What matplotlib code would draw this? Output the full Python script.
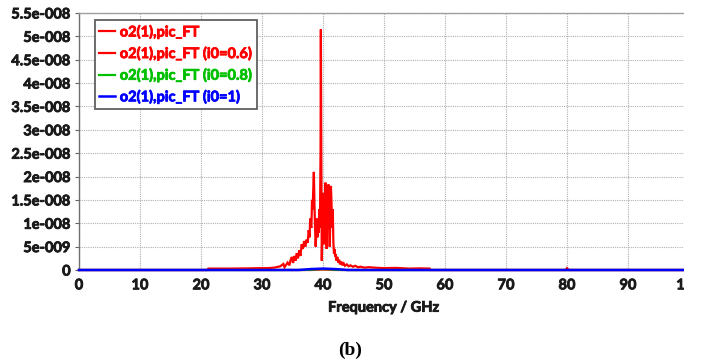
import matplotlib
matplotlib.use("Agg")
import matplotlib.pyplot as plt
import matplotlib.patheffects as pe
from matplotlib.patches import Rectangle

# ---- data (amplitudes in units of 1e-8) ----
freq_a = [0, 21.0, 21.2, 25, 28, 30, 31, 32, 33, 33.5, 33.7, 33.9, 34.2, 34.5, 34.7, 34.9,
          35.1, 35.3, 35.5, 35.7, 35.9, 36.1, 36.3, 36.5, 36.7, 36.9, 37.1, 37.3, 37.5,
          37.65, 37.8, 37.9, 38.0, 38.1, 38.2, 38.3, 38.4, 38.5, 38.6, 38.7, 38.8, 38.9,
          39.0, 39.1, 39.2, 39.3, 39.4, 39.5, 39.6, 39.65, 39.7, 39.8, 39.9, 40.0, 40.05,
          40.1, 40.2, 40.3, 40.4, 40.45, 40.5, 40.6, 40.7, 40.8, 40.9, 41.0, 41.1, 41.2,
          41.3, 41.4, 41.5, 41.6, 41.7, 41.8, 41.9, 42.0, 42.1, 42.2, 42.35, 42.5, 42.65,
          42.8, 43.0, 43.2, 43.4, 43.6, 43.9, 44.2, 44.5, 44.9, 45.3, 45.7, 46.2, 46.8,
          47.5, 48.5, 49.9, 52, 54, 56, 57.5, 57.6, 79.8, 80.0, 80.3, 100]
amp_a = [0.0, 0.0, 0.03, 0.03, 0.035, 0.04, 0.04, 0.05, 0.08, 0.13, 0.06, 0.1, 0.16, 0.1,
         0.22, 0.28, 0.15, 0.3, 0.2, 0.36, 0.25, 0.42, 0.3, 0.55, 0.45, 0.62, 0.5, 0.65,
         0.58, 0.85, 0.7, 1.1, 0.95, 0.9, 1.5, 1.3, 1.7, 2.1, 1.4, 0.9, 0.5, 0.8, 1.1, 0.7,
         1.1, 0.8, 1.3, 0.9, 2.6, 5.15, 3.2, 0.2, 0.9, 1.4, 1.65, 1.0, 0.55, 1.2, 1.87, 1.5,
         0.9, 0.45, 1.0, 1.5, 1.83, 1.3, 0.5, 1.1, 1.8, 1.4, 0.9, 1.3, 0.6, 0.35, 0.45,
         0.28, 0.34, 0.2, 0.28, 0.16, 0.22, 0.12, 0.18, 0.1, 0.14, 0.09, 0.12, 0.08, 0.1,
         0.07, 0.09, 0.06, 0.07, 0.05, 0.06, 0.05, 0.04, 0.045, 0.03, 0.035, 0.03, 0.0,
         0.0, 0.04, 0.0, 0.0]

freq_b = [0, 38, 40, 42, 100]
amp_b = [0.0, 0.0, 0.01, 0.0, 0.0]

freq_c = [0, 37, 39, 40, 41, 43, 100]
amp_c = [0.0, 0.0, 0.015, 0.02, 0.015, 0.0, 0.0]

freq_d = [0, 36, 38, 40, 42, 44, 100]
amp_d = [0.0, 0.0, 0.02, 0.03, 0.02, 0.0, 0.0]

labels = ["o2(1),pic_FT", "o2(1),pic_FT (i0=0.6)", "o2(1),pic_FT (i0=0.8)", "o2(1),pic_FT (i0=1)"]
colors = ["#ff0000", "#ff0000", "#00c000", "#0000ff"]

yticks = [0, 0.5, 1, 1.5, 2, 2.5, 3, 3.5, 4, 4.5, 5, 5.5]
ytick_labels = ["0", "5e-009", "1e-008", "1.5e-008", "2e-008", "2.5e-008", "3e-008",
                "3.5e-008", "4e-008", "4.5e-008", "5e-008", "5.5e-008"]
xticks = [0, 10, 20, 30, 40, 50, 60, 70, 80, 90, 100]

W, H = 701, 364
fig = plt.figure(figsize=(W / 100, H / 100), dpi=100)
ax = fig.add_axes([79 / W, 94 / H, 610 / W, 257 / H])

font = "Lato"
fw = "bold"
fs = 10.5
txtc = "#1a1a1a"


def heavy(color):
    return [pe.withStroke(linewidth=0.6, foreground=color)]


series = [(freq_a, amp_a), (freq_b, amp_b), (freq_c, amp_c), (freq_d, amp_d)]
for (f, a), lab, c in zip(series, labels, colors):
    lw = 1.6 if c != "#0000ff" else 1.8
    ax.plot(f, [v * 1e-8 for v in a], color=c, lw=lw, label=lab, clip_on=False, zorder=3,
            solid_joinstyle="miter")

ax.set_xlim(0, 100)
ax.set_ylim(0, 5.5e-8)
ax.set_xticks(xticks)
ax.set_xticklabels([str(x) for x in xticks], fontfamily=font, fontweight=fw, fontsize=fs,
                   color=txtc, path_effects=heavy(txtc))
ax.set_yticks([v * 1e-8 for v in yticks])
ax.set_yticklabels(ytick_labels, fontfamily=font, fontweight=fw, fontsize=fs,
                   color=txtc, path_effects=heavy(txtc))
ax.tick_params(axis="both", length=3, width=0.8, color="#606060", pad=3)
ax.tick_params(axis="x", length=0, pad=6)

ax.grid(True, color="#b0b0b0", linestyle=(0, (1, 1)), linewidth=0.8, zorder=0)
ax.set_axisbelow(True)
for s in ["right", "bottom"]:
    ax.spines[s].set_visible(False)
ax.spines["top"].set_color("#a0a0a0")
ax.spines["top"].set_linewidth(1.0)
ax.spines["left"].set_color("#707070")
ax.spines["left"].set_linewidth(1.0)

ax.set_xlabel("Frequency / GHz", fontfamily=font, fontweight=fw, fontsize=fs, labelpad=6,
              color=txtc, path_effects=heavy(txtc))

leg = ax.legend(loc="upper left", bbox_to_anchor=((95 - 79) / 610, (H - 20 - 94) / 257),
                frameon=True, fancybox=False, edgecolor="#606060", framealpha=1,
                handlelength=1.1, handletextpad=0.3, borderpad=0.3, labelspacing=0.45,
                borderaxespad=0, prop={"family": font, "weight": fw, "size": fs})
leg.get_frame().set_linewidth(1.3)
for t, c in zip(leg.get_texts(), colors):
    t.set_color(c)
    t.set_path_effects(heavy(c))
leg.set_zorder(5)

fig.text(350 / W, 1 - 350 / H, "(b)", ha="center", va="center",
         fontfamily="Liberation Serif", fontweight="bold", fontsize=14)

# image crop on the right edge
fig.patches.append(Rectangle((684 / W, 0), 1, 1, transform=fig.transFigure,
                             facecolor="white", edgecolor="none", zorder=10))

fig.savefig("out.png", dpi=100, facecolor="white")
